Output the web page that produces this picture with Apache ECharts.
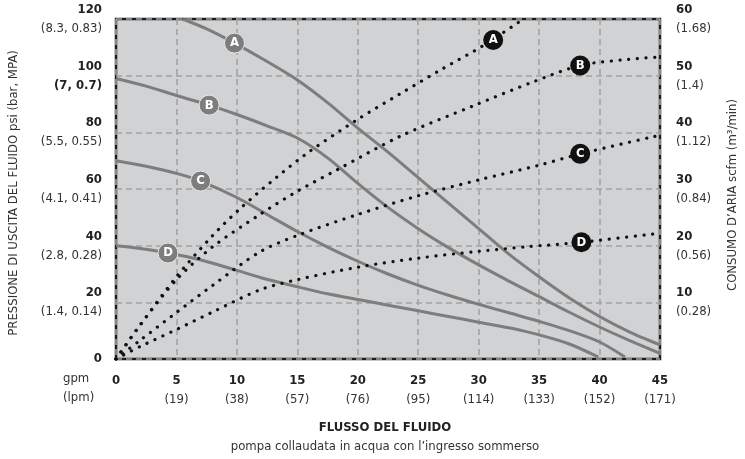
<!DOCTYPE html>
<html>
<head>
<meta charset="utf-8">
<script src="https://cdn.jsdelivr.net/npm/echarts@6/dist/echarts.min.js"></script>
<style>
  html, body { margin: 0; padding: 0; background: #fff; }
  #pumpChart { width: 745px; height: 459px; }
</style>
</head>
<body>
<div id="pumpChart"></div>
<script>
// 坐标轴刻度
const gpmTicks = [0, 5, 10, 15, 20, 25, 30, 35, 40, 45];
const lpmTicks = ["", "(19)", "(38)", "(57)", "(76)", "(95)", "(114)", "(133)", "(152)", "(171)"];
const psiTicks = [0, 20, 40, 60, 80, 100, 120];
const barMpaTicks = ["", "(1.4, 0.14)", "(2.8, 0.28)", "(4.1, 0.41)", "(5.5, 0.55)", "(7, 0.7)", "(8.3, 0.83)"];
const scfmTicks = [0, 10, 20, 30, 40, 50, 60];
const m3Ticks = ["", "(0.28)", "(0.56)", "(0.84)", "(1.12)", "(1.4)", "(1.68)"];

// 压力曲线 [gpm, psi]
const pressureA = [[5.5, 120], [7.5, 116.5], [9.8, 111.5], [12.5, 105], [15, 98.5], [17.5, 90.5], [20, 81.5], [22.5, 73], [25, 64], [27.5, 55], [30, 46], [32.5, 37], [35, 29], [37.5, 21.5], [40, 15], [42.5, 9.5], [45, 5]];
const pressureB = [[0, 99], [2.5, 96.3], [5, 93], [7.7, 89.6], [10, 86.3], [12.5, 82.3], [15, 78], [17.5, 71], [20, 62], [22.5, 53.5], [25, 46], [27.5, 39.3], [30, 33.2], [32.5, 27.5], [35, 22], [37.5, 16.5], [40, 11.3], [42.5, 6.5], [45, 2]];
const pressureC = [[0, 70], [2.5, 68], [5, 65.5], [7, 62.8], [10, 57], [12.5, 51], [15, 45], [17.5, 39.5], [20, 34.5], [22.5, 30], [25, 26], [27.5, 22.5], [30, 19.3], [32.5, 16.3], [35, 13.3], [37.5, 10], [40, 6], [42.1, 0.7]];
const pressureD = [[0, 40], [2, 39], [4.3, 37.4], [6, 36], [8, 33.8], [10, 31.3], [12, 28.7], [15, 25.5], [17.5, 23], [20, 21], [22.5, 19], [25, 17], [27.5, 15], [30, 13], [32.5, 11], [35, 8.5], [37.5, 5.3], [39.9, 0.7]];

// 耗气量曲线 [gpm, scfm]
const airA = [[0, 0], [2, 6], [5, 14.5], [8, 21.8], [10.3, 26.6], [13.3, 32.1], [16, 36.6], [20, 42.3], [23.5, 46.8], [27, 51.2], [30.3, 55.2], [33.7, 60]];
const airB = [[0, 0], [2, 6], [5, 14], [8, 19.8], [11.9, 25.5], [15, 29.6], [18.3, 33.4], [23.5, 39.3], [29.7, 44.8], [34.5, 48.9], [38.4, 51.8], [42, 52.8], [45, 53.3]];
const airC = [[0, 0], [2, 3.3], [5, 8.2], [8, 13], [11.9, 18.9], [15, 21.8], [20, 25.5], [25, 28.8], [30, 31.6], [35, 34.2], [38.4, 36.2], [45, 39.5]];
const airD = [[0, 0], [2, 2.2], [5, 5.2], [8, 8.3], [11.9, 12.2], [15, 14], [20, 16.2], [25, 17.8], [30, 19], [34, 19.8], [38.5, 20.6], [45, 22.2]];

// 曲线字母标记位置
const curveNames = ["A", "B", "C", "D"];
const pressureTags = [[9.8, 111.5], [7.7, 89.6], [7, 62.8], [4.3, 37.4]];
const airTags = [[31.2, 56.3], [38.4, 51.8], [38.4, 36.2], [38.5, 20.6]];

const fontNarrow = "'Liberation Sans Narrow', 'DejaVu Sans Condensed', sans-serif";

(() => {
  // 配置泵性能曲线图
  configPumpChart();
})();

// 配置泵性能曲线图
function configPumpChart() {
  const pumpChart = echarts.init(document.getElementById("pumpChart"));

  const numStyle = { fontWeight: "bold", fontSize: 13, color: "#222", lineHeight: 19, fontFamily: fontNarrow };
  const subStyle = { fontSize: 13, color: "#333", lineHeight: 19, fontFamily: fontNarrow };
  const dashLine = { color: "#a3a3a3", width: 1.6, type: [6, 4] };

  const pressureLine = (data) => ({
    type: "line",
    yAxisIndex: 0,
    data: data,
    smooth: 0.3,
    symbol: "none",
    lineStyle: { color: "#7d7d7d", width: 3 },
    z: 3,
  });
  const airLine = (data) => ({
    type: "line",
    yAxisIndex: 1,
    data: data,
    smooth: 0.3,
    symbol: "none",
    lineStyle: { color: "#111", width: 3.2, type: [0.1, 8.6], cap: "round" },
    z: 4,
  });
  const tagSeries = (tags, axis, fill) => ({
    type: "scatter",
    yAxisIndex: axis,
    symbol: "circle",
    symbolSize: 20,
    data: tags.map((p, i) => ({ value: p, name: curveNames[i] })),
    itemStyle: { color: fill, borderColor: "#e6e6e6", borderWidth: axis === 0 ? 1 : 0, opacity: 1 },
    label: {
      show: true,
      position: "inside",
      formatter: "{b}",
      color: "#fff",
      fontWeight: "bold",
      fontSize: 13,
      fontFamily: fontNarrow,
    },
    z: 6,
  });

  const option = {
    animation: false,
    grid: {
      left: 116,
      right: 85,
      top: 19,
      bottom: 100,
      show: true,
      backgroundColor: "#d1d2d4",
      borderColor: "#1c1c1c",
      borderWidth: 2.5,
    },
    xAxis: {
      type: "value",
      min: 0,
      max: 45,
      interval: 5,
      axisLine: { show: false },
      axisTick: { show: false },
      splitLine: { show: true, lineStyle: dashLine },
      axisLabel: {
        margin: 12,
        formatter: (v) => {
          const i = gpmTicks.indexOf(v);
          return i > 0 ? "{n|" + v + "}\n{s|" + lpmTicks[i] + "}" : "{n|" + v + "}";
        },
        rich: { n: numStyle, s: subStyle },
      },
    },
    yAxis: [
      {
        type: "value",
        min: 0,
        max: 120,
        interval: 20,
        axisLine: { show: false },
        axisTick: { show: false },
        splitLine: { show: true, lineStyle: dashLine },
        axisLabel: {
          margin: 14,
          align: "right",
          formatter: (v) => {
            const i = psiTicks.indexOf(v);
            if (i <= 0) return "{n|" + v + "}";
            return "{n|" + v + "}\n{" + (v === 100 ? "n" : "s") + "|" + barMpaTicks[i] + "}";
          },
          rich: { n: numStyle, s: subStyle },
        },
      },
      {
        type: "value",
        min: 0,
        max: 60,
        interval: 10,
        position: "right",
        axisLine: { show: false },
        axisTick: { show: false },
        splitLine: { show: false },
        axisLabel: {
          margin: 16,
          align: "left",
          formatter: (v) => {
            const i = scfmTicks.indexOf(v);
            if (i <= 0) return "";
            return "{n|" + v + "}\n{s|" + m3Ticks[i] + "}";
          },
          rich: { n: numStyle, s: subStyle },
        },
      },
    ],
    graphic: [
      {
        type: "text",
        left: 63,
        top: 369,
        style: { text: "gpm\n(lpm)", fill: "#333", font: "13px " + fontNarrow, lineHeight: 19, align: "left" },
      },
      {
        type: "text",
        x: 385,
        y: 428,
        style: { text: "FLUSSO DEL FLUIDO", fill: "#222", font: "bold 13px " + fontNarrow, align: "center", verticalAlign: "middle" },
      },
      {
        type: "text",
        x: 385,
        y: 447,
        style: { text: "pompa collaudata in acqua con l\u2019ingresso sommerso", fill: "#333", font: "13px " + fontNarrow, align: "center", verticalAlign: "middle" },
      },
      {
        type: "text",
        x: 14,
        y: 193,
        rotation: Math.PI / 2,
        style: { text: "PRESSIONE DI USCITA DEL FLUIDO psi (bar, MPA)", fill: "#333", font: "13px " + fontNarrow, align: "center", verticalAlign: "middle" },
      },
      {
        type: "text",
        x: 733,
        y: 195,
        rotation: Math.PI / 2,
        style: { text: "CONSUMO D\u2019ARIA scfm (m\u00b3/min)", fill: "#333", font: "13px " + fontNarrow, align: "center", verticalAlign: "middle" },
      },
    ],
    series: [
      pressureLine(pressureA),
      pressureLine(pressureB),
      pressureLine(pressureC),
      pressureLine(pressureD),
      airLine(airA),
      airLine(airB),
      airLine(airC),
      airLine(airD),
      tagSeries(pressureTags, 0, "#7d7d7d"),
      tagSeries(airTags, 1, "#111"),
    ],
  };
  pumpChart.setOption(option);
}
</script>
</body>
</html>
